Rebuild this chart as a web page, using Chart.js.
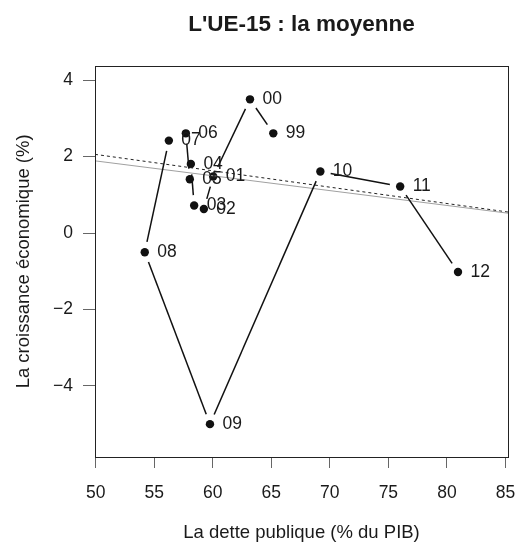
<!DOCTYPE html>
<html>
<head>
<meta charset="utf-8">
<script src="https://cdn.jsdelivr.net/npm/chart.js@4"></script>
<style>
  body { margin: 0; background: #fff; }
</style>
</head>
<body>
<canvas id="ueChart" width="517" height="549"></canvas>
<script>
// Années (étiquettes des points)
const annees = ["99", "00", "01", "02", "03", "04", "05", "06", "07", "08", "09", "10", "11", "12"];
// Dette publique (% du PIB)
const dette = [65.17, 63.18, 60.04, 59.24, 58.41, 58.13, 58.04, 57.7, 56.25, 54.19, 59.76, 69.19, 76.01, 80.95];
// Croissance économique (%)
const croissance = [2.61, 3.5, 1.48, 0.63, 0.72, 1.81, 1.41, 2.61, 2.42, -0.5, -5.0, 1.61, 1.22, -1.02];

// graduations
const xTicks = [50, 55, 60, 65, 70, 75, 80, 85];
const yTicks = [-4, -2, 0, 2, 4];
const xLimites = [49.94, 85.22];
const yLimites = [-5.86, 4.38];

// droites d'ajustement (valeurs aux bords du graphique)
const droiteGrise = [1.89, 0.52];
const droiteTirets = [2.06, 0.55];

const ctx = document.getElementById("ueChart").getContext("2d");

Chart.defaults.font.family = "'Liberation Sans', Arial, sans-serif";
Chart.defaults.font.size = 17.5;
Chart.defaults.color = "#1a1a1a";

// lignes entre les points avec un espace autour de chaque point (type="b")
const traitsEtEtiquettes = {
  id: "traitsEtEtiquettes",
  afterDatasetsDraw(chart) {
    const { ctx, scales: { x, y } } = chart;
    const espace = 10.5;
    ctx.save();
    ctx.strokeStyle = "#111";
    ctx.lineWidth = 1.5;
    for (let i = 0; i < dette.length - 1; i++) {
      const x0 = x.getPixelForValue(dette[i]);
      const y0 = y.getPixelForValue(croissance[i]);
      const x1 = x.getPixelForValue(dette[i + 1]);
      const y1 = y.getPixelForValue(croissance[i + 1]);
      const d = Math.hypot(x1 - x0, y1 - y0);
      if (d <= 2 * espace) continue;
      const ux = (x1 - x0) / d, uy = (y1 - y0) / d;
      ctx.beginPath();
      ctx.moveTo(x0 + ux * espace, y0 + uy * espace);
      ctx.lineTo(x1 - ux * espace, y1 - uy * espace);
      ctx.stroke();
    }
    ctx.fillStyle = "#1a1a1a";
    ctx.font = "17.5px 'Liberation Sans', Arial, sans-serif";
    ctx.textAlign = "left";
    ctx.textBaseline = "middle";
    annees.forEach((a, i) => {
      ctx.fillText(a, x.getPixelForValue(dette[i]) + 12.5, y.getPixelForValue(croissance[i]));
    });
    ctx.restore();
  },
  afterDraw(chart) {
    const { ctx, chartArea: a } = chart;
    ctx.save();
    ctx.strokeStyle = "#222";
    ctx.lineWidth = 1;
    ctx.strokeRect(Math.round(a.left) + 0.5, Math.round(a.top) + 0.5,
      Math.round(a.right - a.left), Math.round(a.bottom - a.top));
    ctx.restore();
  },
};

window.ueChartInstance = new Chart(ctx, {
  type: "scatter",
  data: {
    datasets: [
      {
        label: "ajustement",
        data: xLimites.map((v, i) => ({ x: v, y: droiteGrise[i] })),
        showLine: true,
        borderColor: "#a0a0a0",
        borderWidth: 1,
        pointRadius: 0,
      },
      {
        label: "ajustement (tirets)",
        data: xLimites.map((v, i) => ({ x: v, y: droiteTirets[i] })),
        showLine: true,
        borderColor: "#222",
        borderWidth: 1,
        borderDash: [3, 3],
        pointRadius: 0,
      },
      {
        label: "UE-15",
        data: dette.map((v, i) => ({ x: v, y: croissance[i] })),
        showLine: false,
        pointRadius: 4.2,
        pointBackgroundColor: "#111",
        pointBorderWidth: 0,
      },
    ],
  },
  options: {
    responsive: false,
    animation: false,
    events: [],
    layout: { padding: { left: 0, right: 9, top: 0, bottom: 0 } },
    plugins: {
      legend: { display: false },
      tooltip: { enabled: false },
      title: {
        display: true,
        text: "L'UE-15 : la moyenne",
        fullSize: false,
        font: { size: 22.5, weight: "bold" },
        color: "#1a1a1a",
        padding: { top: 11.5, bottom: 27.2 },
      },
    },
    scales: {
      x: {
        type: "linear",
        min: xLimites[0],
        max: xLimites[1],
        afterBuildTicks: (s) => { s.ticks = xTicks.map((v) => ({ value: v })); },
        afterFit: (s) => { s.height = 92; s.paddingLeft = 0; s.paddingRight = 0; },
        grid: { drawOnChartArea: false, tickLength: 11, color: "#666" },
        border: { display: false },
        ticks: { padding: 15, color: "#1a1a1a" },
        title: {
          display: true,
          text: "La dette publique (% du PIB)",
          color: "#1a1a1a",
          font: { size: 18.5 },
          padding: { top: 0, bottom: 5 },
        },
      },
      y: {
        type: "linear",
        min: yLimites[0],
        max: yLimites[1],
        afterBuildTicks: (s) => { s.ticks = yTicks.map((v) => ({ value: v })); },
        afterFit: (s) => { s.width = 95; s.paddingTop = 0; s.paddingBottom = 0; },
        grid: { drawOnChartArea: false, tickLength: 12, color: "#666" },
        border: { display: false },
        ticks: { padding: 10, color: "#1a1a1a", callback: (v) => (v < 0 ? "\u2212" + Math.abs(v) : v) },
        title: {
          display: true,
          text: "La croissance économique (%)",
          color: "#1a1a1a",
          font: { size: 18.5 },
          padding: { top: 12.5, bottom: 0 },
        },
      },
    },
  },
  plugins: [traitsEtEtiquettes],
});
</script>
</body>
</html>
